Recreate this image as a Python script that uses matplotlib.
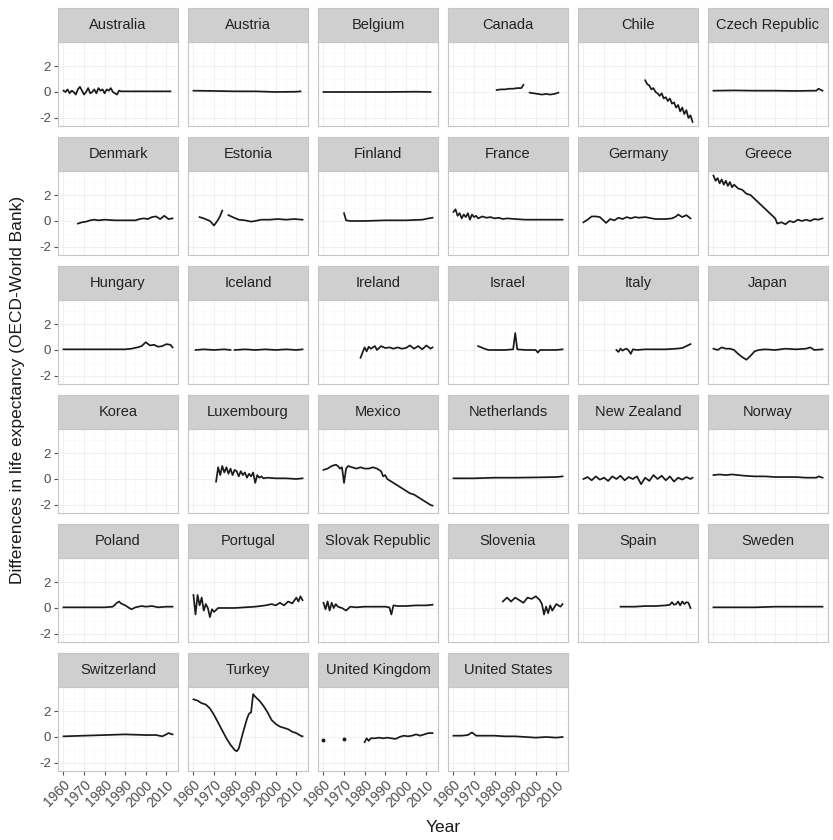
#!/usr/bin/env python3
"""
Small multiples: OECD minus World Bank life expectancy, by country
"""

import numpy as np
import matplotlib.pyplot as plt

plt.rcParams['font.family'] = ['Liberation Sans', 'DejaVu Sans']
plt.rcParams['axes.unicode_minus'] = False

nan = np.nan

# --- data (year, difference) ---
australia_y = [1960, 1961, 1962, 1963, 1964, 1965, 1966, 1967, 1968, 1969, 1970, 1971, 1972, 1973, 1974,
               1975, 1976, 1977, 1978, 1979, 1980, 1981, 1982, 1983, 1984, 1985, 1986, 1987, 1988,
               1990, 1995, 2000, 2005, 2010, 2012]
australia_v = [0.1, 0.0, 0.2, -0.1, 0.1, 0.0, -0.2, 0.2, 0.4, 0.1, -0.2, 0.0, 0.3, -0.1, 0.0,
               0.2, -0.1, 0.3, 0.1, 0.2, -0.1, 0.2, 0.1, 0.3, 0.0, -0.1, -0.2, 0.1, 0.05,
               0.05, 0.05, 0.05, 0.05, 0.05, 0.05]
austria_y = [1960, 1970, 1980, 1990, 2000, 2010, 2012]
austria_v = [0.1, 0.08, 0.05, 0.05, 0.0, 0.02, 0.05]
belgium_y = [1960, 1975, 1990, 2005, 2012]
belgium_v = [0.0, 0.0, 0.0, 0.02, 0.0]
canada_y = [1981, 1983, 1985, 1987, 1989, 1991, 1993, 1994, 1995, 1997, 1999, 2001, 2003, 2005, 2007, 2009, 2011]
canada_v = [0.15, 0.2, 0.2, 0.25, 0.25, 0.3, 0.3, 0.55, nan, -0.05, -0.1, -0.15, -0.2, -0.15, -0.2, -0.15, -0.05]
chile_y = [1990, 1991, 1992, 1993, 1994, 1995, 1996, 1997, 1998, 1999, 2000, 2001, 2002, 2003, 2004,
           2005, 2006, 2007, 2008, 2009, 2010, 2011, 2012, 2013]
chile_v = [0.9, 0.6, 0.5, 0.2, 0.3, 0.0, -0.1, -0.3, -0.1, -0.5, -0.4, -0.7, -0.5, -0.9, -0.8,
           -1.2, -1.0, -1.5, -1.2, -1.7, -1.4, -2.0, -1.8, -2.3]
czech_y = [1960, 1970, 1980, 1990, 2000, 2008, 2010, 2011, 2013]
czech_v = [0.1, 0.12, 0.1, 0.1, 0.08, 0.1, 0.1, 0.25, 0.1]
denmark_y = [1967, 1969, 1971, 1973, 1975, 1977, 1980, 1985, 1990, 1995, 1997, 1999, 2001, 2003, 2005,
             2007, 2009, 2011, 2013]
denmark_v = [-0.2, -0.1, -0.05, 0.05, 0.1, 0.05, 0.1, 0.05, 0.05, 0.05, 0.15, 0.2, 0.15, 0.3, 0.35,
             0.15, 0.4, 0.15, 0.2]
estonia_y = [1963, 1965, 1968, 1970, 1972, 1973, 1974, 1975, 1977, 1979, 1982, 1985, 1988, 1990, 1993,
             1997, 2001, 2005, 2009, 2013]
estonia_v = [0.3, 0.2, 0.0, -0.35, 0.1, 0.4, 0.8, nan, 0.45, 0.3, 0.1, 0.05, -0.05, 0.0, 0.1,
             0.1, 0.15, 0.1, 0.15, 0.1]
finland_y = [1970, 1971, 1973, 1980, 1990, 2000, 2008, 2011, 2013]
finland_v = [0.6, 0.05, 0.0, 0.0, 0.05, 0.05, 0.1, 0.2, 0.25]
france_y = [1960, 1961, 1962, 1963, 1964, 1965, 1966, 1967, 1968, 1969, 1970, 1971, 1972, 1974, 1976,
            1978, 1980, 1982, 1984, 1986, 1990, 1995, 2000, 2005, 2010, 2013]
france_v = [0.7, 0.9, 0.4, 0.6, 0.2, 0.5, 0.3, 0.6, 0.1, 0.5, 0.3, 0.4, 0.2, 0.35, 0.25,
            0.3, 0.2, 0.25, 0.15, 0.2, 0.15, 0.1, 0.1, 0.1, 0.1, 0.1]
germany_y = [1960, 1962, 1964, 1966, 1968, 1970, 1971, 1973, 1975, 1977, 1979, 1981, 1983, 1985, 1987,
             1990, 1995, 2000, 2003, 2005, 2006, 2008, 2010, 2012]
germany_v = [-0.1, 0.1, 0.35, 0.35, 0.3, 0.0, -0.15, 0.15, 0.05, 0.25, 0.15, 0.3, 0.2, 0.3, 0.25,
             0.3, 0.15, 0.15, 0.2, 0.35, 0.5, 0.3, 0.45, 0.2]
greece_y = [1960, 1961, 1962, 1963, 1964, 1965, 1966, 1967, 1968, 1969, 1970, 1972, 1974, 1976, 1978,
            1980, 1982, 1984, 1986, 1988, 1990, 1991, 1993, 1995, 1997, 1999, 2001, 2003, 2005,
            2007, 2009, 2011, 2013]
greece_v = [3.5, 3.1, 3.3, 2.9, 3.2, 2.8, 3.1, 2.7, 3.0, 2.6, 2.8, 2.5, 2.4, 2.1, 2.0,
            1.7, 1.4, 1.1, 0.8, 0.5, 0.2, -0.2, -0.1, -0.25, 0.0, -0.1, 0.1, 0.0, 0.1,
            0.0, 0.15, 0.1, 0.2]
hungary_y = [1960, 1970, 1980, 1990, 1993, 1996, 1998, 2000, 2002, 2004, 2006, 2008, 2010, 2012, 2013]
hungary_v = [0.05, 0.05, 0.05, 0.05, 0.1, 0.2, 0.3, 0.6, 0.35, 0.4, 0.25, 0.3, 0.45, 0.4, 0.2]
iceland_y = [1961, 1965, 1970, 1975, 1978, 1979, 1980, 1985, 1990, 1995, 2000, 2005, 2010, 2013]
iceland_v = [0.0, 0.05, 0.0, 0.05, 0.0, nan, 0.0, 0.05, 0.0, 0.05, 0.0, 0.05, 0.0, 0.05]
ireland_y = [1978, 1979, 1980, 1981, 1982, 1983, 1985, 1986, 1988, 1990, 1992, 1994, 1996, 1998, 2000,
             2002, 2004, 2006, 2008, 2010, 2012, 2013]
ireland_v = [-0.6, -0.2, 0.2, -0.1, 0.25, 0.1, 0.3, 0.0, 0.3, 0.15, 0.2, 0.1, 0.2, 0.1, 0.15,
             0.35, 0.1, 0.3, 0.05, 0.35, 0.1, 0.2]
israel_y = [1972, 1975, 1977, 1980, 1985, 1989, 1990, 1991, 1995, 2000, 2001, 2002, 2005, 2010, 2013]
israel_v = [0.3, 0.1, 0.0, 0.0, 0.0, 0.05, 1.3, 0.05, 0.0, 0.0, -0.2, 0.0, 0.0, 0.0, 0.05]
italy_y = [1976, 1977, 1978, 1979, 1980, 1981, 1982, 1983, 1984, 1986, 1990, 1995, 2000, 2005, 2008,
           2010, 2012]
italy_v = [0.0, -0.15, 0.1, -0.05, 0.05, 0.1, -0.05, -0.3, 0.05, 0.0, 0.05, 0.05, 0.05, 0.1, 0.15,
           0.3, 0.45]
japan_y = [1960, 1962, 1964, 1966, 1968, 1970, 1972, 1974, 1976, 1978, 1980, 1982, 1985, 1990, 1995,
           2000, 2005, 2007, 2009, 2013]
japan_v = [0.1, 0.0, 0.2, 0.1, 0.1, 0.0, -0.3, -0.55, -0.75, -0.45, -0.1, 0.0, 0.05, 0.0, 0.1,
           0.05, 0.1, 0.2, 0.0, 0.05]
korea_y = []
korea_v = []
luxembourg_y = [1971, 1972, 1973, 1974, 1975, 1976, 1977, 1978, 1979, 1980, 1981, 1982, 1983, 1984, 1985,
                1986, 1987, 1988, 1989, 1990, 1991, 1992, 1993, 1994, 1996, 2000, 2005, 2010, 2013]
luxembourg_v = [-0.2, 0.9, 0.3, 1.0, 0.5, 0.9, 0.4, 0.8, 0.3, 0.7, 0.6, 0.2, 0.6, 0.3, 0.5,
                0.1, 0.4, 0.2, 0.5, -0.3, 0.3, 0.1, 0.2, 0.05, 0.1, 0.05, 0.05, 0.0, 0.05]
mexico_y = [1960, 1962, 1964, 1966, 1967, 1968, 1969, 1970, 1971, 1972, 1974, 1976, 1978, 1980, 1982,
            1984, 1986, 1988, 1989, 1990, 1991, 1992, 1994, 1996, 1998, 2000, 2002, 2004, 2006,
            2008, 2010, 2012, 2013]
mexico_v = [0.7, 0.8, 1.0, 1.1, 1.0, 0.8, 0.9, -0.3, 0.8, 1.0, 0.9, 0.8, 0.9, 0.8, 0.8,
            0.9, 0.8, 0.6, 0.2, 0.3, 0.0, -0.1, -0.3, -0.5, -0.7, -0.9, -1.1, -1.2, -1.4,
            -1.6, -1.8, -2.0, -2.05]
netherlands_y = [1960, 1970, 1980, 1990, 2000, 2010, 2013]
netherlands_v = [0.05, 0.05, 0.1, 0.1, 0.12, 0.15, 0.2]
new_zealand_y = [1960, 1962, 1964, 1966, 1968, 1970, 1972, 1974, 1976, 1978, 1980, 1982, 1984, 1986, 1987,
                 1988, 1990, 1992, 1994, 1996, 1998, 2000, 2002, 2004, 2006, 2008, 2010, 2012, 2013]
new_zealand_v = [0.0, 0.15, -0.1, 0.2, -0.05, 0.1, -0.15, 0.2, 0.0, 0.25, -0.1, 0.15, 0.0, 0.2, -0.1,
                 -0.4, 0.1, -0.15, 0.3, 0.0, 0.25, -0.1, 0.2, -0.2, 0.1, -0.05, 0.15, 0.0, 0.1]
norway_y = [1960, 1963, 1966, 1969, 1972, 1975, 1980, 1985, 1990, 1995, 2000, 2005, 2010, 2011, 2013]
norway_v = [0.3, 0.35, 0.3, 0.35, 0.3, 0.25, 0.2, 0.2, 0.15, 0.15, 0.15, 0.1, 0.1, 0.2, 0.1]
poland_y = [1960, 1970, 1980, 1984, 1986, 1987, 1988, 1990, 1992, 1993, 1995, 1998, 2000, 2003, 2006,
            2010, 2013]
poland_v = [0.05, 0.05, 0.05, 0.1, 0.4, 0.5, 0.35, 0.2, 0.0, -0.1, 0.05, 0.15, 0.1, 0.15, 0.05,
            0.1, 0.1]
portugal_y = [1960, 1961, 1962, 1963, 1964, 1965, 1966, 1967, 1968, 1969, 1970, 1972, 1975, 1980, 1985,
              1990, 1995, 1998, 2000, 2002, 2004, 2006, 2008, 2010, 2011, 2012, 2013]
portugal_v = [1.0, -0.5, 1.0, 0.2, 0.8, -0.2, 0.3, 0.0, -0.7, -0.1, -0.3, 0.0, 0.0, 0.0, 0.05,
              0.1, 0.2, 0.3, 0.2, 0.4, 0.2, 0.5, 0.35, 0.8, 0.5, 0.9, 0.6]
slovakia_y = [1960, 1961, 1962, 1963, 1964, 1965, 1966, 1967, 1969, 1971, 1973, 1976, 1980, 1985, 1990,
              1992, 1993, 1994, 1996, 2000, 2005, 2010, 2013]
slovakia_v = [0.4, -0.1, 0.5, -0.2, 0.4, 0.0, 0.3, 0.1, 0.0, -0.2, 0.1, 0.05, 0.1, 0.1, 0.1,
              0.05, -0.5, 0.2, 0.15, 0.15, 0.2, 0.2, 0.25]
slovenia_y = [1984, 1986, 1988, 1990, 1992, 1994, 1996, 1998, 2000, 2002, 2003, 2004, 2005, 2006, 2007,
              2008, 2010, 2012, 2013]
slovenia_v = [0.5, 0.8, 0.5, 0.8, 0.6, 0.4, 0.8, 0.7, 0.9, 0.6, 0.3, -0.5, 0.1, -0.4, 0.2,
              -0.2, 0.3, 0.1, 0.3]
spain_y = [1978, 1985, 1990, 1995, 2000, 2002, 2003, 2004, 2005, 2006, 2007, 2008, 2009, 2010, 2011, 2012]
spain_v = [0.1, 0.1, 0.15, 0.15, 0.2, 0.25, 0.45, 0.25, 0.3, 0.5, 0.2, 0.5, 0.3, 0.45, 0.4, 0.0]
sweden_y = [1960, 1970, 1980, 1990, 2000, 2010, 2013]
sweden_v = [0.05, 0.05, 0.05, 0.1, 0.1, 0.1, 0.1]
switzerland_y = [1960, 1970, 1980, 1990, 2000, 2005, 2008, 2010, 2011, 2013]
switzerland_v = [0.05, 0.1, 0.15, 0.2, 0.15, 0.15, 0.05, 0.2, 0.3, 0.2]
turkey_y = [1960, 1962, 1964, 1966, 1968, 1970, 1972, 1974, 1976, 1978, 1980, 1981, 1982, 1984, 1986,
            1987, 1988, 1989, 1990, 1992, 1994, 1996, 1998, 2000, 2002, 2004, 2006, 2008, 2010,
            2012, 2013]
turkey_v = [2.9, 2.8, 2.6, 2.5, 2.2, 1.7, 1.1, 0.5, -0.1, -0.6, -1.0, -1.1, -0.9, 0.3, 1.4,
            1.8, 1.9, 3.3, 3.1, 2.8, 2.4, 1.9, 1.3, 1.0, 0.8, 0.7, 0.6, 0.4, 0.3,
            0.1, 0.05]
uk_y = [1980, 1981, 1982, 1983, 1985, 1987, 1989, 1991, 1993, 1995, 1997, 1999, 2001, 2003, 2005,
        2007, 2009, 2011, 2013]
uk_v = [-0.4, -0.1, -0.3, -0.1, -0.1, -0.05, -0.1, -0.05, -0.1, -0.15, 0.0, 0.1, 0.05, 0.1, 0.2,
        0.1, 0.2, 0.3, 0.3]
uk_dots_y = [1960, 1970]
uk_dots_v = [-0.2, -0.15]
us_y = [1960, 1964, 1967, 1969, 1971, 1975, 1980, 1985, 1990, 1995, 2000, 2005, 2010, 2013]
us_v = [0.1, 0.1, 0.15, 0.35, 0.1, 0.1, 0.1, 0.05, 0.05, 0.0, -0.05, 0.0, -0.05, 0.0]

countries = ['Australia', 'Austria', 'Belgium', 'Canada', 'Chile', 'Czech Republic',
             'Denmark', 'Estonia', 'Finland', 'France', 'Germany', 'Greece',
             'Hungary', 'Iceland', 'Ireland', 'Israel', 'Italy', 'Japan',
             'Korea', 'Luxembourg', 'Mexico', 'Netherlands', 'New Zealand', 'Norway',
             'Poland', 'Portugal', 'Slovak Republic', 'Slovenia', 'Spain', 'Sweden',
             'Switzerland', 'Turkey', 'United Kingdom', 'United States']
series = [(australia_y, australia_v), (austria_y, austria_v), (belgium_y, belgium_v),
          (canada_y, canada_v), (chile_y, chile_v), (czech_y, czech_v),
          (denmark_y, denmark_v), (estonia_y, estonia_v), (finland_y, finland_v),
          (france_y, france_v), (germany_y, germany_v), (greece_y, greece_v),
          (hungary_y, hungary_v), (iceland_y, iceland_v), (ireland_y, ireland_v),
          (israel_y, israel_v), (italy_y, italy_v), (japan_y, japan_v),
          (korea_y, korea_v), (luxembourg_y, luxembourg_v), (mexico_y, mexico_v),
          (netherlands_y, netherlands_v), (new_zealand_y, new_zealand_v), (norway_y, norway_v),
          (poland_y, poland_v), (portugal_y, portugal_v), (slovakia_y, slovakia_v),
          (slovenia_y, slovenia_v), (spain_y, spain_v), (sweden_y, sweden_v),
          (switzerland_y, switzerland_v), (turkey_y, turkey_v), (uk_y, uk_v), (us_y, us_v)]

x_ticks = [1960, 1970, 1980, 1990, 2000, 2010]
y_ticks = [-2, 0, 2]

# --- layout in pixels ---
W, H = 833, 840
NCOL = 6
PANEL_W, PANEL_H, STRIP_H = 120, 84, 34
COL_STEP, ROW_STEP = 130, 129
LEFT0, TOP0 = 58, 8

STRIP_FILL = '#cfcfcf'
BORDER = '#c6c6c6'
GRID = '#f0f0f0'
TICK_COL = '#555555'

fig = plt.figure(figsize=(W / 100, H / 100), dpi=100)

n_rows = (len(countries) + NCOL - 1) // NCOL

for idx, name in enumerate(countries):
    r, c = divmod(idx, NCOL)
    left = LEFT0 + COL_STEP * c
    strip_top = TOP0 + ROW_STEP * r
    panel_top = strip_top + STRIP_H
    panel_bottom = panel_top + PANEL_H

    ax = fig.add_axes([left / W, 1 - panel_bottom / H, PANEL_W / W, PANEL_H / H])
    sax = fig.add_axes([left / W, 1 - panel_top / H, PANEL_W / W, STRIP_H / H])

    # strip
    sax.set_facecolor(STRIP_FILL)
    sax.set_xticks([])
    sax.set_yticks([])
    for sp in sax.spines.values():
        sp.set_color(BORDER)
        sp.set_linewidth(0.8)
    sax.text(0.5, 0.5, name, ha='center', va='center', fontsize=10.5, color='#222222',
             transform=sax.transAxes)

    # panel
    yrs, vals = series[idx]
    if len(yrs):
        ax.plot(yrs, vals, color='#1a1a1a', linewidth=1.25, solid_joinstyle='round')
    if name == 'United Kingdom':
        ax.plot(uk_dots_y, uk_dots_v, linestyle='none', marker='o', markersize=1.8,
                color='#1a1a1a')

    ax.set_xlim(1957.35, 2015.65)
    ax.set_ylim(-2.62, 3.85)
    ax.set_xticks(x_ticks)
    ax.set_xticks([1965, 1975, 1985, 1995, 2005], minor=True)
    ax.set_yticks(y_ticks)
    ax.set_yticks([-1, 1, 3], minor=True)
    ax.grid(True, which='major', color=GRID, linewidth=0.7)
    ax.grid(True, which='minor', color='#f7f7f7', linewidth=0.4)
    ax.set_axisbelow(True)
    for sp in ax.spines.values():
        sp.set_color(BORDER)
        sp.set_linewidth(0.8)

    ax.tick_params(which='minor', length=0)
    if c == 0:
        ax.tick_params(axis='y', length=3, width=0.8, color=TICK_COL, labelsize=9.5,
                       labelcolor='#4d4d4d', pad=2)
    else:
        ax.tick_params(axis='y', length=0, labelleft=False)

    if r == n_rows - 1:
        ax.tick_params(axis='x', length=3, width=0.8, color=TICK_COL, labelsize=10,
                       labelcolor='#4d4d4d', pad=2)
        ax.set_xticklabels([str(t) for t in x_ticks], rotation=45, ha='right', va='top',
                           rotation_mode='anchor')
    else:
        ax.tick_params(axis='x', length=0, labelbottom=False)

# axis titles
panels_top = TOP0
panels_bottom = TOP0 + ROW_STEP * (n_rows - 1) + STRIP_H + PANEL_H
fig.text(18 / W, 1 - ((panels_top + panels_bottom) / 2) / H,
         'Differences in life expectancy (OECD-World Bank)',
         rotation=90, ha='center', va='center', fontsize=12.5, color='#1a1a1a')
fig.text((LEFT0 + LEFT0 + COL_STEP * (NCOL - 1) + PANEL_W) / 2 / W, 1 - 828 / H, 'Year',
         ha='center', va='center', fontsize=12.5, color='#1a1a1a')

fig.savefig('out.png', dpi=100, facecolor='white')
plt.close(fig)
